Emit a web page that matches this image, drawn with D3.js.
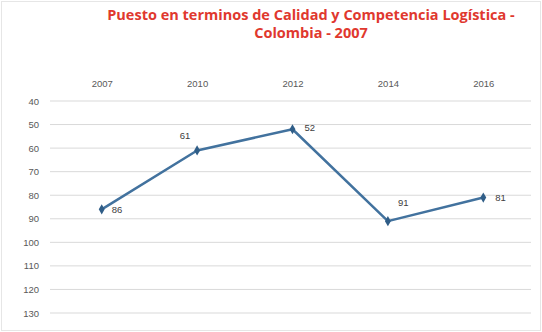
<!DOCTYPE html>
<html><head><meta charset="utf-8">
<script src="https://cdn.jsdelivr.net/npm/d3@7"></script>
<style>body{margin:0;background:#fff}svg{display:block}</style>
</head><body>
<script>
const years = ["2007","2010","2012","2014","2016"];
const puesto = [86, 61, 52, 91, 81];
const yTicks = [40,50,60,70,80,90,100,110,120,130];
const titleLines = ["Puesto en terminos de Calidad y Competencia Logística -", "Colombia - 2007"];

const W = 542, H = 332;
const svg = d3.select("body").append("svg").attr("width", W).attr("height", H);
svg.append("rect").attr("x",1.5).attr("y",1.5).attr("width",W-3).attr("height",H-3)
  .attr("fill","#fff").attr("stroke","#e6e6e6");

const x = d3.scalePoint().domain(years).range([54, 531]).padding(0.5);
const y = d3.scaleLinear().domain([40,130]).range([101, 313]);

// title
const t = svg.append("text").attr("text-anchor","middle").attr("font-family","'Open Sans', 'Liberation Sans', sans-serif")
  .attr("font-weight","bold").attr("font-size",14.5).attr("fill","#e0382e");
titleLines.forEach((l,i)=>t.append("tspan").attr("x",311).attr("y",20+i*18).text(l));

// gridlines
svg.append("g").selectAll("line").data(yTicks).join("line")
  .attr("x1",50).attr("x2",531).attr("y1",d=>y(d)).attr("y2",d=>y(d))
  .attr("stroke","#d9d9d9").attr("stroke-width",1);

// y axis labels
const yAxis = d3.axisLeft(y).tickValues(yTicks).tickSize(0).tickPadding(6);
const gy = svg.append("g").attr("transform","translate(45,0)").call(yAxis);
gy.select(".domain").remove();
gy.selectAll("text").attr("font-family","'Liberation Sans', sans-serif").attr("font-size",9.5).attr("fill","#595959");

// x axis labels on top
const xAxis = d3.axisTop(x).tickSize(0).tickPadding(0);
const gx = svg.append("g").attr("transform","translate(0,87)").call(xAxis);
gx.select(".domain").remove();
gx.selectAll("text").attr("font-family","'Liberation Sans', sans-serif").attr("font-size",9.5).attr("fill","#595959");

// line
const data = years.map((d,i)=>({year:d, v:puesto[i]}));
svg.append("path").datum(data)
  .attr("d", d3.line().x(d=>x(d.year)).y(d=>y(d.v)))
  .attr("fill","none").attr("stroke","#42729e").attr("stroke-width",2.5).attr("stroke-linejoin","round");

svg.append("g").selectAll("path").data(data).join("path")
  .attr("d", d3.symbol(d3.symbolDiamond, 30))
  .attr("transform", d=>`translate(${x(d.year)},${y(d.v)})`)
  .attr("fill","#2f5d87");

// labels
const offs = [[10,4,"start"],[-12,-11,"middle"],[12,2,"start"],[10,-15,"start"],[12,3,"start"]];
svg.append("g").selectAll("text").data(data).join("text")
  .attr("x",(d,i)=>x(d.year)+offs[i][0]).attr("y",(d,i)=>y(d.v)+offs[i][1])
  .attr("text-anchor",(d,i)=>offs[i][2])
  .attr("font-family","'Liberation Sans', sans-serif").attr("font-size",9.5).attr("fill","#404040")
  .text(d=>d.v);
</script>
</body></html>
